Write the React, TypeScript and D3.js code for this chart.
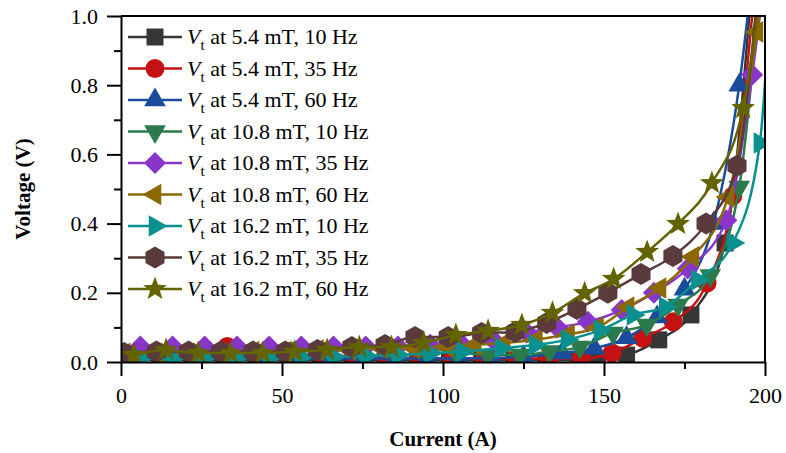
import React, { useEffect, useRef } from 'react';
import * as d3 from 'd3';

// current (A) and terminal voltage (V), one pair per curve
const i54_10 = [2, 12, 22, 32, 42, 52, 62, 72, 82, 92, 102, 112, 122, 132, 142, 148, 157, 167, 177, 187.6, 196];
const v54_10 = [0.01, 0.005, 0.005, 0.005, 0.005, 0.005, 0.005, 0.005, 0.005, 0.005, 0.005, 0.005, 0.005, 0.005, 0.005, 0.008, 0.02, 0.064, 0.136, 0.344, 1.1];

const i54_35 = [3, 13, 23, 33, 43, 53, 63, 73, 83, 93, 103, 113, 123, 133, 143, 152.5, 162, 171.5, 182, 190, 197];
const v54_35 = [0.02, 0.02, 0.02, 0.045, 0.02, 0.02, 0.02, 0.015, 0.01, 0.01, 0.01, 0.01, 0.01, 0.01, 0.01, 0.026, 0.069, 0.116, 0.228, 0.48, 1.1];

const i54_60 = [5, 15, 25, 35, 45, 55, 65, 75, 85, 95, 105, 115, 125, 137, 147, 157, 166.5, 175, 184, 192, 197];
const v54_60 = [0.01, 0.01, 0.01, 0.01, 0.01, 0.01, 0.01, 0.01, 0.01, 0.01, 0.01, 0.012, 0.015, 0.026, 0.04, 0.07, 0.13, 0.21, 0.4, 0.8, 1.2];

const i108_10 = [4, 14, 24, 34, 44, 54, 64, 74, 84, 94, 104, 114, 124, 133, 142.5, 152.8, 163.3, 173, 183, 192, 199];
const v108_10 = [0.02, 0.02, 0.02, 0.02, 0.035, 0.04, 0.04, 0.04, 0.04, 0.04, 0.03, 0.02, 0.02, 0.03, 0.043, 0.084, 0.107, 0.165, 0.25, 0.506, 1.15];

const i108_35 = [6, 16, 26, 36, 46, 56, 66, 76, 86, 96, 106, 116, 126, 135.5, 145, 155.5, 165.5, 176, 188, 196, 201];
const v108_35 = [0.045, 0.045, 0.045, 0.045, 0.045, 0.045, 0.045, 0.045, 0.045, 0.05, 0.05, 0.06, 0.085, 0.1, 0.116, 0.15, 0.2, 0.27, 0.41, 0.83, 1.2];

const i108_60 = [1, 11, 21, 31, 41, 51, 61, 71, 81, 91, 101, 110, 119, 129, 139, 148, 157.5, 167.4, 177.6, 188.5, 197.5, 201];
const v108_60 = [0.025, 0.025, 0.025, 0.025, 0.03, 0.03, 0.035, 0.035, 0.04, 0.04, 0.045, 0.05, 0.055, 0.065, 0.08, 0.1, 0.159, 0.214, 0.304, 0.477, 0.954, 1.2];

const i162_10 = [6, 16, 26, 36, 46, 56, 66, 76, 86, 96, 106, 118, 128.6, 138.5, 148.8, 159, 169, 179, 190, 198.4, 203];
const v162_10 = [0.01, 0.01, 0.012, 0.012, 0.012, 0.015, 0.015, 0.018, 0.02, 0.025, 0.03, 0.04, 0.049, 0.064, 0.092, 0.136, 0.159, 0.237, 0.344, 0.633, 1.3];

const i162_35 = [1, 11, 21, 31, 41, 51, 61, 71.7, 82, 91.3, 101.6, 112, 122.4, 132.2, 141.6, 151.2, 161.5, 171.4, 181.7, 191.3, 198];
const v162_35 = [0.026, 0.03, 0.03, 0.03, 0.03, 0.03, 0.035, 0.043, 0.049, 0.072, 0.072, 0.084, 0.087, 0.113, 0.153, 0.2, 0.254, 0.306, 0.4, 0.567, 1.1];

const i162_60 = [4, 14, 24, 34, 44, 54, 64, 74, 84, 94, 104, 114, 124.5, 134, 144, 153, 163.4, 173, 183.5, 193.2, 199];
const v162_60 = [0.02, 0.035, 0.026, 0.026, 0.026, 0.03, 0.035, 0.043, 0.043, 0.055, 0.078, 0.09, 0.107, 0.142, 0.199, 0.24, 0.318, 0.399, 0.517, 0.734, 1.1];

const fields = ['5.4', '5.4', '5.4', '10.8', '10.8', '10.8', '16.2', '16.2', '16.2'];
const freqs = ['10', '35', '60', '10', '35', '60', '10', '35', '60'];
const colors = ['#363636', '#c41212', '#1a4c9c', '#2b7a4b', '#8a35c9', '#8a6a00', '#0b9090', '#5a3a3a', '#636300'];
const markers = ['square', 'circle', 'up', 'down', 'diamond', 'left', 'right', 'hexagon', 'star'];
const currents = [i54_10, i54_35, i54_60, i108_10, i108_35, i108_60, i162_10, i162_35, i162_60];
const voltages = [v54_10, v54_35, v54_60, v108_10, v108_35, v108_60, v162_10, v162_35, v162_60];

const xTicks = [0, 50, 100, 150, 200];
const xMinor = [25, 75, 125, 175];
const yTicks = [0, 0.2, 0.4, 0.6, 0.8, 1.0];
const yMinor = [0.1, 0.3, 0.5, 0.7, 0.9];

const poly = (pts) => 'M' + pts.map((p) => p[0].toFixed(2) + ',' + p[1].toFixed(2)).join('L') + 'Z';

const markerPath = (type) => {
  const tri = (rot) => {
    const R = 12.5;
    return poly([0, 120, 240].map((a) => {
      const t = ((a + rot - 90) * Math.PI) / 180;
      return [R * Math.cos(t), R * Math.sin(t)];
    }));
  };
  switch (type) {
    case 'square':
      return 'M-8.5,-8.5h17v17h-17Z';
    case 'circle':
      return 'M9.5,0A9.5,9.5 0 1,1 -9.5,0A9.5,9.5 0 1,1 9.5,0Z';
    case 'up':
      return tri(0);
    case 'down':
      return tri(180);
    case 'left':
      return tri(270);
    case 'right':
      return tri(90);
    case 'diamond':
      return 'M0,-11L11,0L0,11L-11,0Z';
    case 'hexagon':
      return poly(d3.range(6).map((k) => {
        const t = ((k * 60 - 90) * Math.PI) / 180;
        return [11 * Math.cos(t), 11 * Math.sin(t)];
      }));
    case 'star':
      return poly(d3.range(10).map((k) => {
        const r = k % 2 === 0 ? 12.5 : 5.2;
        const t = ((k * 36 - 90) * Math.PI) / 180;
        return [r * Math.cos(t), r * Math.sin(t)];
      }));
    default:
      return '';
  }
};

export default function App() {
  const svgRef = useRef(null);
  const width = 786;
  const height = 453;

  const x = d3.scaleLinear().domain([0, 200]).range([121, 765]);
  const y = d3.scaleLinear().domain([0, 1]).range([362, 16]);

  const line = d3
    .line()
    .x((d) => x(d[0]))
    .y((d) => y(d[1]))
    .curve(d3.curveMonotoneX);

  const series = currents.map((cur, k) => ({
    color: colors[k],
    marker: markers[k],
    field: fields[k],
    freq: freqs[k],
    points: cur.map((c, j) => [c, voltages[k][j]]),
  }));

  useEffect(() => {
    const svg = d3.select(svgRef.current);
    const font = (g) =>
      g
        .selectAll('text')
        .attr('font-family', '"Liberation Serif", "Times New Roman", serif')
        .attr('font-size', 22)
        .attr('fill', '#000');
    const lines = (g) => g.selectAll('line, path').attr('stroke', '#000').attr('stroke-width', 2);

    svg
      .select('.x-axis')
      .attr('transform', `translate(0,${y(0)})`)
      .call(d3.axisBottom(x).tickValues(xTicks).tickFormat(d3.format('d')).tickSize(14).tickPadding(11).tickSizeOuter(0))
      .call(font)
      .call(lines);
    svg
      .select('.x-minor')
      .attr('transform', `translate(0,${y(0)})`)
      .call(d3.axisBottom(x).tickValues(xMinor).tickFormat(() => '').tickSize(7))
      .call((g) => g.select('.domain').remove())
      .call(lines);
    svg
      .select('.y-axis')
      .attr('transform', `translate(${x(0)},0)`)
      .call(d3.axisLeft(y).tickValues(yTicks).tickFormat(d3.format('.1f')).tickSize(14).tickPadding(9).tickSizeOuter(0))
      .call(font)
      .call(lines);
    svg
      .select('.y-minor')
      .attr('transform', `translate(${x(0)},0)`)
      .call(d3.axisLeft(y).tickValues(yMinor).tickFormat(() => '').tickSize(7))
      .call((g) => g.select('.domain').remove())
      .call(lines);
  }, []);

  const legendY0 = 37;
  const legendStep = 31.5;

  return (
    <svg
      ref={svgRef}
      width={width}
      height={height}
      style={{ position: 'absolute', left: 0, top: 0, background: '#fff' }}
      fontFamily='"Liberation Serif", "Times New Roman", serif'
    >
      <defs>
        <clipPath id="plot-clip">
          <rect x={x(0)} y={y(1)} width={x(200) - x(0)} height={y(0) - y(1)} />
        </clipPath>
      </defs>
      <g clipPath="url(#plot-clip)">
        {series.map((s, k) => (
          <g key={k}>
            <path d={line(s.points)} fill="none" stroke={s.color} strokeWidth={2.5} />
            {s.points.map((p, j) => (
              <path key={j} d={markerPath(s.marker)} transform={`translate(${x(p[0])},${y(p[1])})`} fill={s.color} />
            ))}
          </g>
        ))}
      </g>
      <path d={`M${x(0)},${y(1)}H${x(200)}V${y(0)}`} fill="none" stroke="#000" strokeWidth={2} />
      <g className="x-minor" />
      <g className="y-minor" />
      <g className="x-axis" />
      <g className="y-axis" />

      <g className="legend">
        {series.map((s, k) => {
          const cy = legendY0 + k * legendStep;
          return (
            <g key={k}>
              <line x1={128} x2={182} y1={cy} y2={cy} stroke={s.color} strokeWidth={2.5} />
              <path d={markerPath(s.marker)} transform={`translate(155,${cy})`} fill={s.color} />
              <text x={187} y={cy + 7} fontSize={22} fill="#000">
                <tspan fontStyle="italic">V</tspan>
                <tspan fontSize={15} dy={6}>t</tspan>
                <tspan dy={-6}>{` at ${s.field} mT, ${s.freq} Hz`}</tspan>
              </text>
            </g>
          );
        })}
      </g>

      <text x={(x(0) + x(200)) / 2} y={446} textAnchor="middle" fontSize={21} fontWeight="bold">
        Current (A)
      </text>
      <text
        transform={`translate(30,${(y(0) + y(1)) / 2}) rotate(-90)`}
        textAnchor="middle"
        fontSize={21}
        fontWeight="bold"
      >
        Voltage (V)
      </text>
    </svg>
  );
}
